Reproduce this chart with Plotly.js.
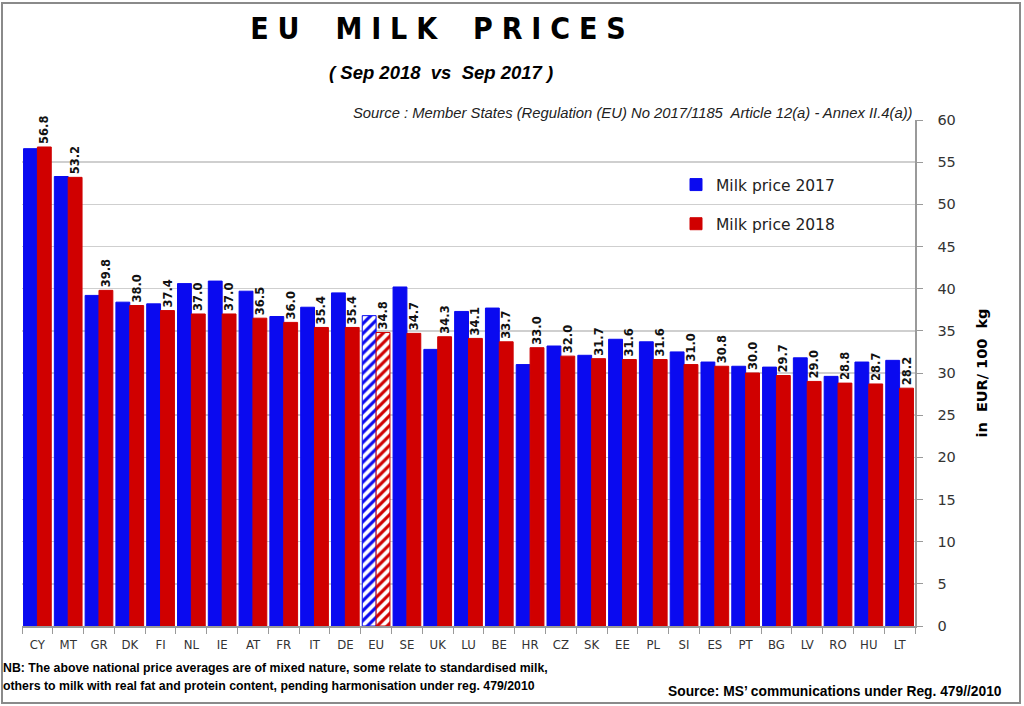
<!DOCTYPE html>
<html>
<head>
<meta charset="utf-8">
<script src="https://cdn.plot.ly/plotly-3.0.1.min.js"></script>
<style>
html,body{margin:0;padding:0;background:#fff;}
#chart{width:1024px;height:706px;}
</style>
</head>
<body>
<div id="chart"></div>
<script>
const countries = ['CY','MT','GR','DK','FI','NL','IE','AT','FR','IT','DE','EU','SE','UK','LU','BE','HR','CZ','SK','EE','PL','SI','ES','PT','BG','LV','RO','HU','LT'];
const price2017 = [56.6,53.3,39.2,38.4,38.2,40.6,40.9,39.7,36.7,37.8,39.5,36.8,40.2,32.8,37.3,37.7,31.0,33.2,32.1,34.0,33.7,32.5,31.3,30.8,30.7,31.8,29.6,31.3,31.5];
const price2018 = [56.8,53.2,39.8,38.0,37.4,37.0,37.0,36.5,36.0,35.4,35.4,34.8,34.7,34.3,34.1,33.7,33.0,32.0,31.7,31.6,31.6,31.0,30.8,30.0,29.7,29.0,28.8,28.7,28.2];
const seriesNames = ['Milk price 2017','Milk price 2018'];
const yTicks = [0,5,10,15,20,25,30,35,40,45,50,55,60];

const BLUE = '#0a0af0', RED = '#d00000';
const L = 22, R = 109, T = 120, B = 80, W = 1024, H = 706;
const pw = W - L - R, ph = H - T - B;
const px = x => (x - L) / pw;
const py = y => (H - B - y) / ph;

const shapeFor = c => c === 'EU' ? '/' : '';

const traces = [
  {
    type: 'bar', name: seriesNames[0], x: countries, y: price2017,
    legendgroup: 'a',
    marker: {color: BLUE, line: {color: BLUE, width: 1},
      pattern: {shape: countries.map(shapeFor), bgcolor: '#ffffff', fgcolor: BLUE, size: 7, solidity: 0.45, fillmode: 'replace'}},
    hoverinfo: 'x+y'
  },
  {
    type: 'bar', name: seriesNames[1], x: countries, y: price2018,
    legendgroup: 'b',
    text: price2018.map(v => v.toFixed(1)), textposition: 'outside', textangle: -90,
    constraintext: 'none', cliponaxis: false,
    textfont: {family: 'DejaVu Sans, Verdana, sans-serif', size: 11.5, color: '#111', weight: 'bold'},
    marker: {color: RED, line: {color: RED, width: 1},
      pattern: {shape: countries.map(shapeFor), bgcolor: '#ffffff', fgcolor: RED, size: 7, solidity: 0.45, fillmode: 'replace'}},
    hoverinfo: 'x+y'
  }
];

const titleText = 'E\u2004U\u2002\u2002\u2004M\u2004I\u2004L\u2004K\u2002\u2002\u2004P\u2004R\u2004I\u2004C\u2004E\u2004S';

const layout = {
  width: W, height: H,
  margin: {l: L, r: R, t: T, b: B, pad: 0},
  paper_bgcolor: '#ffffff', plot_bgcolor: '#ffffff',
  barmode: 'group', bargap: 0.1, bargroupgap: 0,
  showlegend: true,
  legend: {x: px(676), y: py(168), xanchor: 'left', yanchor: 'top', bgcolor: 'rgba(0,0,0,0)',
    font: {family: 'DejaVu Sans, Verdana, sans-serif', size: 15.5, color: '#222'},
    tracegroupgap: 16, itemwidth: 30},
  title: {text: titleText, xref: 'container', yref: 'container', x: 438/W, y: 1 - 28/H,
    xanchor: 'center', yanchor: 'middle',
    font: {family: 'DejaVu Sans Condensed, DejaVu Sans, sans-serif', size: 30, color: '#000', weight: 'bold'}},
  xaxis: {
    type: 'category', showgrid: false, showline: true, linecolor: '#9a9a9a', linewidth: 1.5,
    ticks: 'outside', tickson: 'boundaries', ticklen: 6, tickcolor: '#9a9a9a', ticklabelstandoff: 6,
    tickfont: {family: 'DejaVu Sans Condensed, DejaVu Sans, sans-serif', size: 13, color: '#333'},
    fixedrange: true
  },
  yaxis: {
    side: 'right', range: [0, 60], tickvals: yTicks, ticktext: yTicks.map(String),
    showgrid: true, gridcolor: '#cfcfcf', gridwidth: 1.5, zeroline: false,
    showline: true, linecolor: '#9a9a9a', linewidth: 1.5,
    ticks: 'outside', ticklen: 6, tickcolor: '#9a9a9a', ticklabelstandoff: 12,
    tickfont: {family: 'DejaVu Sans, Verdana, sans-serif', size: 14.5, color: '#333'},
    title: {text: 'in  EUR/ 100  kg', standoff: 22,
      font: {family: 'DejaVu Sans, Verdana, sans-serif', size: 14.5, color: '#000', weight: 'bold'}},
    fixedrange: true
  },
  annotations: [
    {text: '<i><b>( Sep 2018  vs  Sep 2017 )</b></i>', xref: 'paper', yref: 'paper', x: px(441), y: py(72),
      xanchor: 'center', yanchor: 'middle', showarrow: false,
      font: {family: 'Liberation Sans, Arial, sans-serif', size: 18.5, color: '#000'}},
    {text: '<i>Source : Member States (Regulation (EU) No 2017/1185  Article 12(a) - Annex II.4(a))</i>', xref: 'paper', yref: 'paper',
      x: px(915), y: py(113), xanchor: 'right', yanchor: 'middle', showarrow: false,
      font: {family: 'Liberation Sans, Arial, sans-serif', size: 14.8, color: '#222'}},
    {text: 'NB: The above national price averages are of mixed nature, some relate to standardised milk,', xref: 'paper', yref: 'paper',
      x: px(1), y: py(668), xanchor: 'left', yanchor: 'middle', showarrow: false,
      font: {family: 'Liberation Sans Narrow, Liberation Sans, Arial, sans-serif', size: 12.3, color: '#000', weight: 'bold'}},
    {text: 'others to milk with real fat and protein content, pending harmonisation under reg. 479/2010', xref: 'paper', yref: 'paper',
      x: px(1), y: py(686), xanchor: 'left', yanchor: 'middle', showarrow: false,
      font: {family: 'Liberation Sans Narrow, Liberation Sans, Arial, sans-serif', size: 12.3, color: '#000', weight: 'bold'}},
    {text: 'Source: MS\u2019 communications under Reg. 479//2010', xref: 'paper', yref: 'paper',
      x: px(1004), y: py(691), xanchor: 'right', yanchor: 'middle', showarrow: false,
      font: {family: 'Liberation Sans, Arial, sans-serif', size: 13.8, color: '#000', weight: 'bold'}}
  ],
  shapes: [
    {type: 'rect', xref: 'paper', yref: 'paper', x0: px(2), x1: px(1020), y0: py(703), y1: py(3),
      line: {color: '#8a8a8a', width: 2}, fillcolor: 'rgba(0,0,0,0)', layer: 'below'}
  ]
};

Plotly.newPlot('chart', traces, layout, {displayModeBar: false, staticPlot: true});
</script>
</body>
</html>
